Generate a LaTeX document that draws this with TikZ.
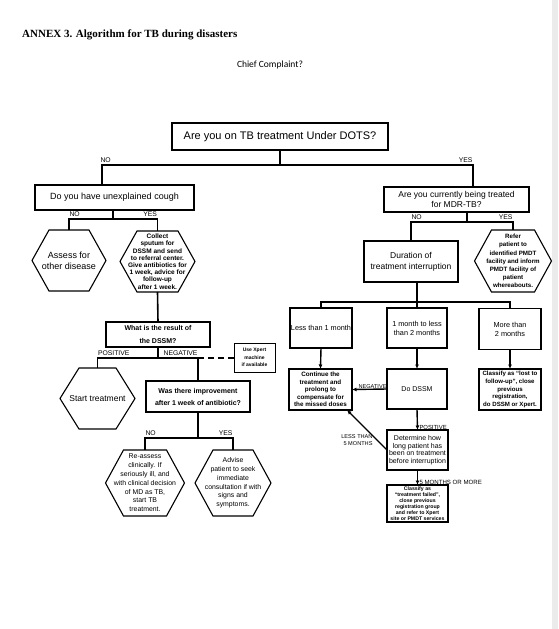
\documentclass[tikz,border=0pt]{standalone}
\usepackage{fontspec}
\setsansfont{Liberation Sans}
\newfontfamily\timesf{Liberation Serif}
\newfontfamily\calibri{Carlito}
\usetikzlibrary{arrows.meta}
\newcommand{\fsz}[2]{\fontsize{#1}{#2}\selectfont}
\newcommand{\hexdraw}[2]{\draw[hexline] (#1.west) -- ([xshift=#2]#1.north west) -- ([xshift=-#2]#1.north east) -- (#1.east) -- ([xshift=-#2]#1.south east) -- ([xshift=#2]#1.south west) -- cycle;}
\tikzset{
  box/.style={draw, line width=1.1pt, inner sep=1pt, outer sep=0pt, align=center},
  hexn/.style={inner sep=0pt, outer sep=0pt, align=center},
  hexline/.style={line width=1.1pt, line join=miter},
  conn/.style={line width=1.6pt},
  arr/.style={line width=1.4pt, -{Latex[length=4.5pt,width=4pt]}},
  lab/.style={inner sep=0.3pt, font=\sffamily\fsz{6.8}{7.5}}
}
\begin{document}
\begin{tikzpicture}[x=1pt,y=-1pt]
\fill[white] (0,0) rectangle (558,629);
\useasboundingbox (0,0) rectangle (558,629);
\fill[black!8] (552,0) rectangle (558,629);

% title
\node[anchor=base west, inner sep=0pt, font=\timesf\bfseries\fsz{11}{13}] (title) at (22,37) {ANNEX 3. Algorithm for TB during disasters};
\node[inner sep=0pt, font=\calibri\fsz{9.5}{11}] (chief) at (270,65) {Chief Complaint?};

% top question
\node[box, minimum width=216, minimum height=27, font=\sffamily\fsz{11}{13}] (q1) at (280,136.5) {Are you on TB treatment Under DOTS?};
\coordinate (j1L) at (102,165);
\coordinate (j1R) at (473,165);

% left branch
\node[box, minimum width=159, minimum height=25, font=\sffamily\fsz{9}{11}] (q2) at (114.5,197.5) {Do you have unexplained cough};
\node[box, minimum width=145, minimum height=25, font=\sffamily\fsz{8.5}{10}] (q3) at (456.5,199.5) {Are you currently being treated\\for MDR-TB?};

\draw[conn] (q1.south) -- (q1.south |- j1L);
\draw[conn] (q2.north -| j1L) |- (j1R) -- (q3.north -| j1R);
\node[lab, anchor=south west] (noA) at ([xshift=-2pt,yshift=1.5pt]j1L) {NO};
\node[lab, anchor=south east] (yesA) at ([yshift=1.5pt]j1R) {YES};

\node[hexn, minimum width=74, minimum height=61, font=\sffamily\fsz{9}{11}] (hA) at (69,260.5) {Assess for\\other disease};
\hexdraw{hA}{17}
\node[hexn, minimum width=75, minimum height=61, font=\sffamily\bfseries\fsz{6.5}{7.2}] (hC) at (157.5,261.5) {Collect\\sputum for\\DSSM and send\\to referral center.\\Give antibiotics for\\1 week, advice for\\follow-up\\after 1 week.};
\hexdraw{hC}{17}

\coordinate (j2) at (113,219);
\coordinate (j2R) at (157.5,219);
\draw[conn] (q2.south -| j2) -- (j2);
\draw[conn] (hA.north) |- (j2R) -- (hC.north);
\node[lab, anchor=south west] (noB) at ([yshift=1.5pt]hA.north |- j2) {NO};
\node[lab, anchor=south east] (yesB) at ([yshift=1.5pt]j2R) {YES};

\node[box, minimum width=104, minimum height=25, font=\sffamily\bfseries\fsz{7}{12.5}] (q4) at (158,334.5) {What is the result of\\the DSSM?};
\draw[conn] (hC.south) -- (q4.north);

\node[hexn, minimum width=75, minimum height=61, font=\sffamily\fsz{8.5}{10}] (hS) at (97.5,398.5) {Start treatment};
\hexdraw{hS}{19}
\node[box, minimum width=104, minimum height=31, font=\sffamily\bfseries\fsz{7}{12}] (q5) at (198,396.5) {Was there improvement\\after 1 week of antibiotic?};
\node[box, line width=0.9pt, minimum width=41, minimum height=29, font=\sffamily\bfseries\fsz{5}{7.5}] (xp) at (254.5,357.5) {Use Xpert\\machine\\if available};

\coordinate (j3R) at (198,358);
\draw[conn] (q4.south) -- (q4.south |- j3R);
\draw[conn] (hS.north) |- (j3R) -- (q5.north);
\draw[line width=1.2pt, dash pattern=on 6pt off 4pt] (j3R) -- (xp.west |- j3R);
\node[lab, anchor=south west] (posA) at ([yshift=1.5pt]hS.north |- j3R) {POSITIVE};
\node[lab, anchor=south east] (negA) at ([yshift=1.5pt]j3R) {NEGATIVE};

\node[hexn, minimum width=79, minimum height=66, font=\sffamily\fsz{6.9}{8.8}] (hR) at (145,483) {Re-assess\\clinically. If\\seriously ill, and\\with clinical decision\\of MD as TB,\\start TB\\treatment.};
\hexdraw{hR}{18}
\node[hexn, minimum width=76, minimum height=66, font=\sffamily\fsz{6.9}{8.8}] (hV) at (233,483) {Advise\\patient to seek\\immediate\\consultation if with\\signs and\\symptoms.};
\hexdraw{hV}{18}

\coordinate (j4) at (198,438);
\draw[conn] (q5.south) -- (j4);
\draw[conn] (hR.north) |- (j4) -| (hV.north);
\node[lab, anchor=south west] (noC) at ([yshift=1.5pt]hR.north |- j4) {NO};
\node[lab, anchor=south east] (yesC) at ([yshift=1.5pt]hV.north |- j4) {YES};

% right branch
\node[box, minimum width=94, minimum height=41, font=\sffamily\fsz{8.5}{11}] (dur) at (411,261.5) {Duration of\\treatment interruption};
\node[hexn, minimum width=77, minimum height=62, font=\sffamily\bfseries\fsz{6.2}{8.2}] (hP) at (513,261) {Refer\\patient to\\identified PMDT\\facility and inform\\PMDT facility of\\patient\\whereabouts.};
\hexdraw{hP}{17}

\coordinate (j5) at (467,222);
\draw[conn] (q3.south -| j5) -- (j5);
\draw[conn] (dur.north) |- (j5) -| (hP.north);
\node[lab, anchor=south west] (noD) at ([yshift=1.5pt]dur.north |- j5) {NO};
\node[lab, anchor=south east] (yesD) at ([yshift=1.5pt]hP.north |- j5) {YES};

\node[box, minimum width=62, minimum height=40, font=\sffamily\fsz{7.3}{9}] (l1) at (321,328) {Less than 1 month};
\node[box, minimum width=60, minimum height=40, font=\sffamily\fsz{7.3}{9}] (m1) at (417,328) {1 month to less\\than 2 months};
\node[box, minimum width=62, minimum height=41, font=\sffamily\fsz{7.3}{9}] (r1) at (510,329) {More than\\2 months};

\coordinate (j6) at (417,302);
\draw[conn] (dur.south -| m1) -- (m1.north);
\draw[conn] (l1.north) |- (j6) -| (r1.north);

\node[box, minimum width=63, minimum height=41, font=\sffamily\bfseries\fsz{6.3}{7.6}] (l2) at (320.5,389.5) {Continue the\\treatment and\\prolong to\\compensate for\\the missed doses};
\node[box, minimum width=60, minimum height=40, font=\sffamily\fsz{7}{8}] (m2) at (417,389) {Do DSSM};
\node[box, minimum width=62, minimum height=41, font=\sffamily\bfseries\fsz{6.1}{7.7}] (r2) at (510,389.5) {Classify as “lost to\\follow-up”, close\\previous\\registration,\\do DSSM or Xpert.};

\draw[arr] (l1.south) -- (l2.north);
\draw[arr] (m1.south) -- (m2.north);
\draw[arr] (r1.south) -- (r2.north);
\draw[arr] (m2.west) -- (l2.east);
\node[lab, anchor=south east, font=\sffamily\fsz{5.6}{6}] (negB) at (m2.west) {NEGATIVE};

\node[box, minimum width=61, minimum height=40, font=\sffamily\fsz{7}{7.6}] (d) at (417.5,450) {Determine how\\long patient has\\been on treatment\\before interruption};
\node[box, minimum width=61, minimum height=37, font=\sffamily\bfseries\fsz{5.2}{6.1}] (f) at (417.5,503.5) {Classify as\\“treatment failed”,\\close previous\\registration group\\and refer to Xpert\\site or PMDT services};

\draw[arr] (m2.south) -- (d.north);
\node[lab, anchor=south west, font=\sffamily\fsz{5.9}{6.5}] (posB) at ([xshift=1.5pt]d.north) {POSITIVE};
\draw[arr] (d.west) -- ([xshift=-5pt]l2.south east);
\node[lab, align=right, anchor=east, font=\sffamily\fsz{5.6}{6.5}] (lt) at (373,440) {LESS THAN\\5 MONTHS};
\draw[arr] (d.south) -- (f.north);
\node[lab, anchor=south west, font=\sffamily\fsz{6.1}{7}] (mm) at ([xshift=1.5pt]f.north) {5 MONTHS OR MORE};
\end{tikzpicture}
\end{document}
